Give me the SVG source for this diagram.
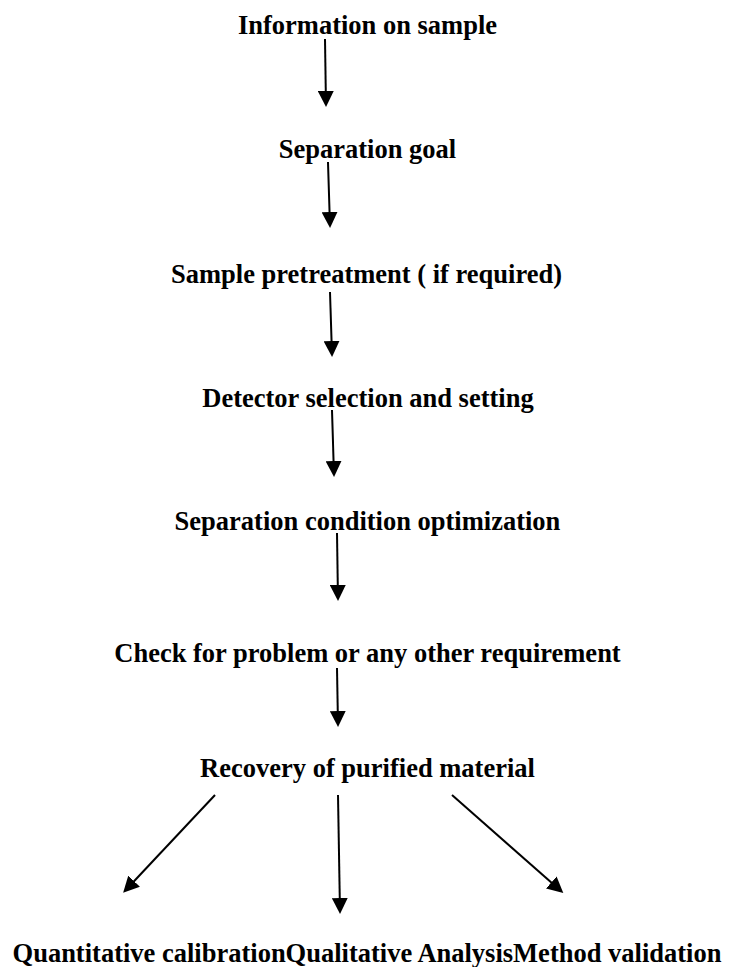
<svg xmlns="http://www.w3.org/2000/svg" width="729" height="967" viewBox="0 0 729 967">
<style>
.t{font-family:"Liberation Serif","Times New Roman",serif;font-weight:bold;font-size:26.5px;fill:#000;text-anchor:middle}
.c{stroke:#000;stroke-width:2;fill:none}
</style>
<defs>
<marker id="ah" viewBox="0 0 16 16" refX="8" refY="8" markerWidth="16" markerHeight="16" markerUnits="userSpaceOnUse" orient="auto">
<path d="M0,0 L16,8 L0,16 Z" fill="#000"/>
</marker>
</defs>
<rect width="729" height="967" fill="#fff"/>
<g id="n1"><text class="t" x="367.5" y="34">Information on sample</text></g>
<g id="n2"><text class="t" x="367.5" y="158">Separation goal</text></g>
<g id="n3"><text class="t" x="366.5" y="283">Sample pretreatment ( if required)</text></g>
<g id="n4"><text class="t" x="368" y="407">Detector selection and setting</text></g>
<g id="n5"><text class="t" x="367.5" y="530">Separation condition optimization</text></g>
<g id="n6"><text class="t" x="367.5" y="662">Check for problem or any other requirement</text></g>
<g id="n7"><text class="t" x="367.5" y="777">Recovery of purified material</text></g>
<g id="n8"><text class="t" x="367" y="962">Quantitative calibrationQualitative AnalysisMethod validation</text></g>
<g id="connectors">
<line class="c" x1="325" y1="39" x2="325.9" y2="99" marker-end="url(#ah)"/>
<line class="c" x1="328" y1="162" x2="329.8" y2="220" marker-end="url(#ah)"/>
<line class="c" x1="330" y1="292" x2="331.8" y2="349" marker-end="url(#ah)"/>
<line class="c" x1="332" y1="410" x2="333.8" y2="469" marker-end="url(#ah)"/>
<line class="c" x1="337" y1="533" x2="337.9" y2="593" marker-end="url(#ah)"/>
<line class="c" x1="337" y1="668" x2="337.9" y2="719" marker-end="url(#ah)"/>
<line class="c" x1="215" y1="795" x2="128.6" y2="887" marker-end="url(#ah)"/>
<line class="c" x1="338" y1="795" x2="339.9" y2="906" marker-end="url(#ah)"/>
<line class="c" x1="452" y1="795" x2="557.3" y2="887.7" marker-end="url(#ah)"/>
</g>
</svg>
